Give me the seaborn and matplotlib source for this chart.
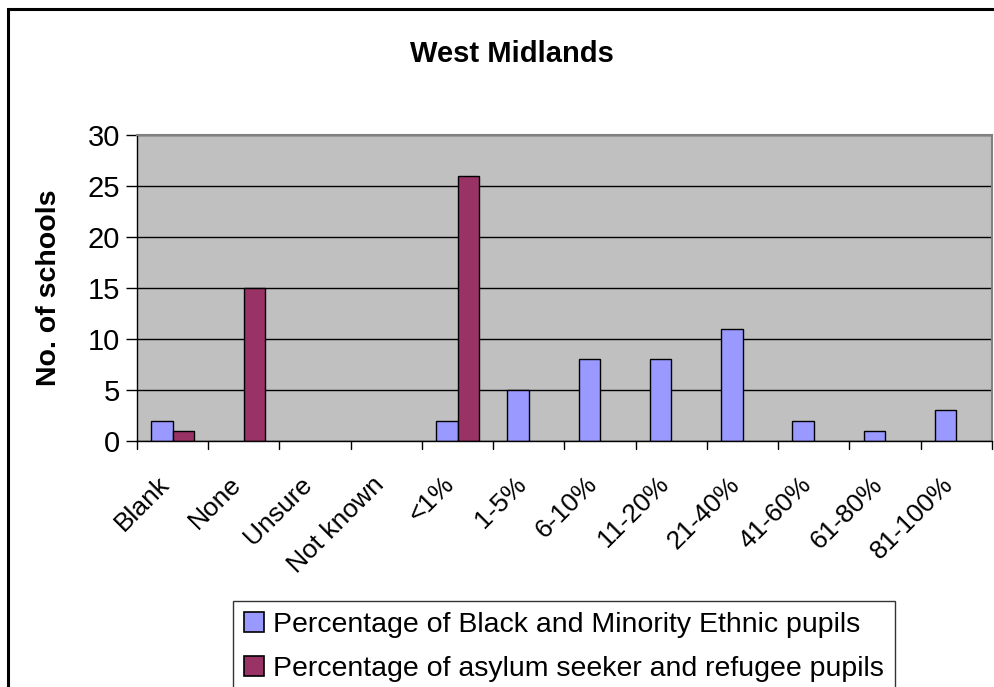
import matplotlib
matplotlib.use("Agg")
import matplotlib.pyplot as plt
import matplotlib.transforms as mtransforms
from matplotlib.patches import Rectangle, Patch
import pandas as pd
import seaborn as sns

categories = ["Blank", "None", "Unsure", "Not known", "<1%", "1-5%", "6-10%",
              "11-20%", "21-40%", "41-60%", "61-80%", "81-100%"]
bme_pupils = [2, 0, 0, 0, 2, 5, 8, 8, 11, 2, 1, 3]
asylum_pupils = [1, 15, 0, 0, 26, 0, 0, 0, 0, 0, 0, 0]
series_names = ["Percentage of Black and Minority Ethnic pupils",
                "Percentage of asylum seeker and refugee pupils"]
series_colors = ["#9999FF", "#993366"]
y_ticks = [0, 5, 10, 15, 20, 25, 30]

df = pd.DataFrame({
    "category": categories * 2,
    "schools": bme_pupils + asylum_pupils,
    "series": [series_names[0]] * len(categories) + [series_names[1]] * len(categories),
})

sns.set_theme(style="white")
plt.rcParams["font.family"] = ["Liberation Sans", "DejaVu Sans"]
plt.rcParams["text.color"] = "black"
plt.rcParams["xtick.color"] = "black"
plt.rcParams["ytick.color"] = "black"
plt.rcParams["axes.labelcolor"] = "black"

fig = plt.figure(figsize=(9.95, 6.87), dpi=100)
ax = fig.add_axes([137 / 995, 1 - 441 / 687, (992 - 137) / 995, (441 - 135) / 687])

sns.barplot(data=df, x="category", y="schools", hue="series", order=categories,
            hue_order=series_names, palette=series_colors,
            width=0.6, gap=0, edgecolor="black", linewidth=1.0,
            saturation=1, ax=ax, legend=False)

# empty categories draw no outline
for bar in ax.patches:
    if bar.get_height() == 0:
        bar.set_linewidth(0)

ax.set_facecolor("#C0C0C0")
ax.set_ylim(0, 30)
ax.set_yticks(y_ticks)
ax.set_xlim(-0.5, len(categories) - 0.5)
ax.yaxis.grid(True, color="black", linewidth=1.0)
ax.set_axisbelow(True)
for side in ["top", "right"]:
    ax.spines[side].set_color("#808080")
    ax.spines[side].set_linewidth(1.5)
for side in ["left", "bottom"]:
    ax.spines[side].set_color("black")
    ax.spines[side].set_linewidth(1.0)

ax.tick_params(axis="y", labelsize=21, length=8, width=1, direction="out", left=True, pad=4)
ax.tick_params(axis="x", labelsize=19, length=0, pad=0)
ax.set_xticks(range(len(categories)))
ax.set_xticklabels(categories, rotation=45, ha="right", va="top", rotation_mode="anchor")
shift = mtransforms.ScaledTranslation(-0.15, -0.31, fig.dpi_scale_trans)
for lbl in ax.get_xticklabels():
    lbl.set_transform(lbl.get_transform() + shift)
# category boundary tick marks below the axis
for b in range(len(categories) + 1):
    ax.plot([b - 0.5, b - 0.5], [0, -0.8], color="black", lw=1, clip_on=False)

ax.set_xlabel("")
ax.set_ylabel("No. of schools", fontsize=20.5, fontweight="bold")
ax.yaxis.set_label_coords(-(137 - 62) / 855, 0.5)
fig.text(512 / 995, 1 - 54 / 687, "West Midlands", fontsize=21, fontweight="bold",
         ha="center", va="center")

handles = [Patch(facecolor=c, edgecolor="black", linewidth=1.2) for c in series_colors]
leg = fig.legend(handles, series_names, loc="upper left",
                 bbox_to_anchor=(233 / 995, 1 - 601 / 687),
                 frameon=True, fancybox=False, edgecolor="black", fontsize=20.5,
                 handlelength=0.7, handleheight=0.7, handletextpad=0.3,
                 labelspacing=0.62, borderpad=0.4, borderaxespad=0)
leg.get_frame().set_linewidth(1.0)

fig.patches.append(Rectangle((8 / 995, -0.05), 1.0, 1 - 9 / 687 + 0.05,
                             transform=fig.transFigure, fill=False,
                             edgecolor="black", linewidth=2.2))

fig.savefig("out.png", dpi=100)
